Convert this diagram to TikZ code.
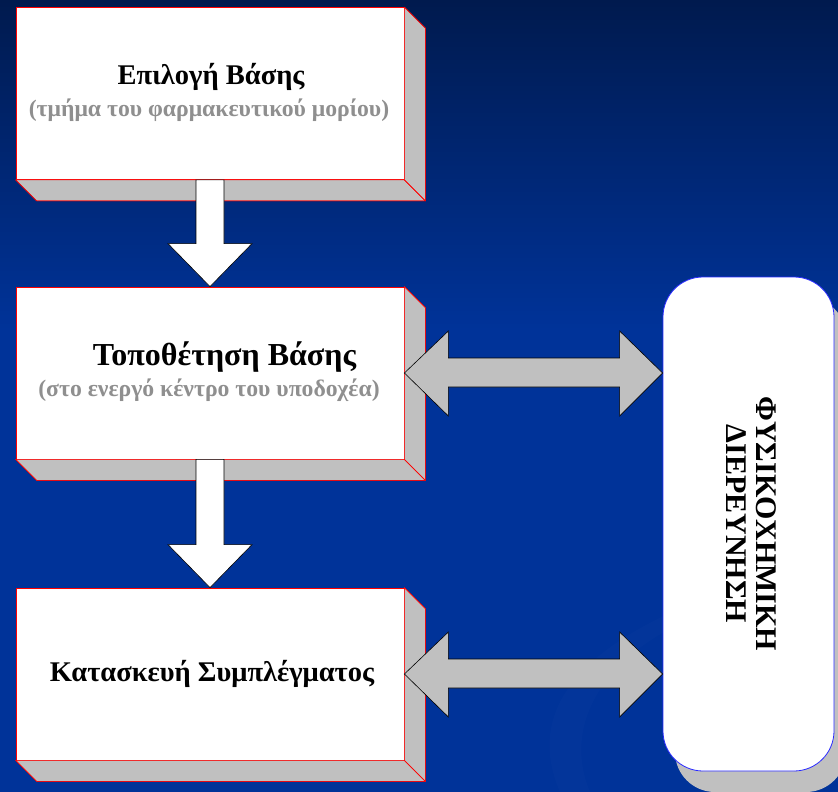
\documentclass[tikz,border=0pt]{standalone}
\usepackage{fontspec}
\setmainfont{Liberation Serif}
\usetikzlibrary{calc}
\definecolor{bgtop}{HTML}{001A4E}
\definecolor{bgbot}{HTML}{003399}
\definecolor{swirl}{HTML}{0A3C9F}
\definecolor{facegray}{HTML}{C0C0C0}
\definecolor{subgray}{HTML}{8F8F8F}
\definecolor{edgered}{HTML}{FF0000}
\definecolor{rbord}{HTML}{2A2AFF}
\tikzset{
  frontbox/.style={draw=edgered, line width=0.8pt, fill=white, minimum width=388pt, minimum height=172pt, inner sep=0pt, align=center, font=\bfseries},
  sideface/.style={fill=facegray, draw=edgered, line width=0.6pt, line join=round},
  downarrow/.style={fill=white, draw=black, line width=0.6pt},
  duoarrow/.style={fill=facegray, draw=black, line width=0.6pt, line join=miter},
  title/.style={font=\fontsize{28.5}{32}\selectfont\bfseries},
  subt/.style={font=\fontsize{23.7}{26}\selectfont\bfseries, text=subgray}
}
\newcommand{\boxfaces}[1]{%
  \fill[sideface] (#1.south west) -- (#1.south east) -- ($(#1.south east)+(21,21)$) -- ($(#1.south west)+(21,21)$) -- cycle;
  \fill[sideface] (#1.north east) -- ($(#1.north east)+(21,21)$) -- ($(#1.south east)+(21,21)$) -- (#1.south east) -- cycle;
  \draw[sideface,fill=none] (#1.south west) -- ($(#1.south west)+(21,21)$) -- ($(#1.south east)+(21,21)$) -- ($(#1.north east)+(21,21)$) -- (#1.north east);
  \draw[sideface,fill=none] (#1.south east) -- ($(#1.south east)+(21,21)$);
}
\newcommand{\downarr}[2]{%
  \draw[downarrow] ($(#1.south)+(-14,0)$) -- ($(#1.south)+(14,0)$) -- ($(#2.north)+(14,-43)$) -- ($(#2.north)+(42,-43)$) -- (#2.north) -- ($(#2.north)+(-42,-43)$) -- ($(#2.north)+(-14,-43)$) -- cycle;
}
\newcommand{\duoarr}[2]{%
  \draw[duoarrow] (#1) -- ($(#1)+(44,-42)$) -- ($(#1)+(44,-15)$) -- ($(#2)+(-43,-15)$) -- ($(#2)+(-43,-42)$) -- (#2) -- ($(#2)+(-43,43)$) -- ($(#2)+(-43,14)$) -- ($(#1)+(44,14)$) -- ($(#1)+(44,43)$) -- cycle;
}
\begin{document}
\begin{tikzpicture}[x=1pt,y=-1pt]
\useasboundingbox (0,0) rectangle (838,792);
% background
\fill[bgbot] (0,0) rectangle (838,792);
\shade[top color=bgtop, bottom color=bgbot] (0,0) rectangle (838,330);
\fill[swirl, opacity=0.3] (700,600) .. controls (600,640) and (520,700) .. (560,792) -- (590,792) .. controls (560,720) and (610,650) .. (700,615) -- cycle;
% right box with shadow
\fill[facegray, rounded corners=40pt] (675,297) rectangle (846,792);
\node[draw=rbord, line width=0.8pt, fill=white, rounded corners=40pt, minimum width=171pt, minimum height=494pt, inner sep=0pt] (r) at (748.5,524) {};
\node[rotate=-90, align=center, font=\fontsize{30}{30}\selectfont\bfseries] (rt) at (751,524) {ΦΥΣΙΚΟΧΗΜΙΚΗ\\ΔΙΕΡΕΥΝΗΣΗ};
% boxes
\node[frontbox] (b1) at (210,93.5) {};
\node[frontbox] (b2) at (210,373) {};
\node[frontbox] (b3) at (210,674) {};
\boxfaces{b1}
\boxfaces{b2}
\boxfaces{b3}
\node[title] (t1) at (211,77) {Επιλογή Βάσης};
\node[subt] (s1) at (209,110) {(τμήμα του φαρμακευτικού μορίου)};
\node[title, font=\fontsize{32}{34}\selectfont\bfseries] (t2) at (224.5,357) {Τοποθέτηση Βάσης};
\node[subt] (s2) at (209,390) {(στο ενεργό κέντρο του υποδοχέα)};
\node[title] (t3) at (212,674) {Κατασκευή Συμπλέγματος};
% arrows
\downarr{b1}{b2}
\downarr{b2}{b3}
\duoarr{b2.east}{r.west |- b2.east}
\duoarr{b3.east}{r.west |- b3.east}
\end{tikzpicture}
\end{document}
